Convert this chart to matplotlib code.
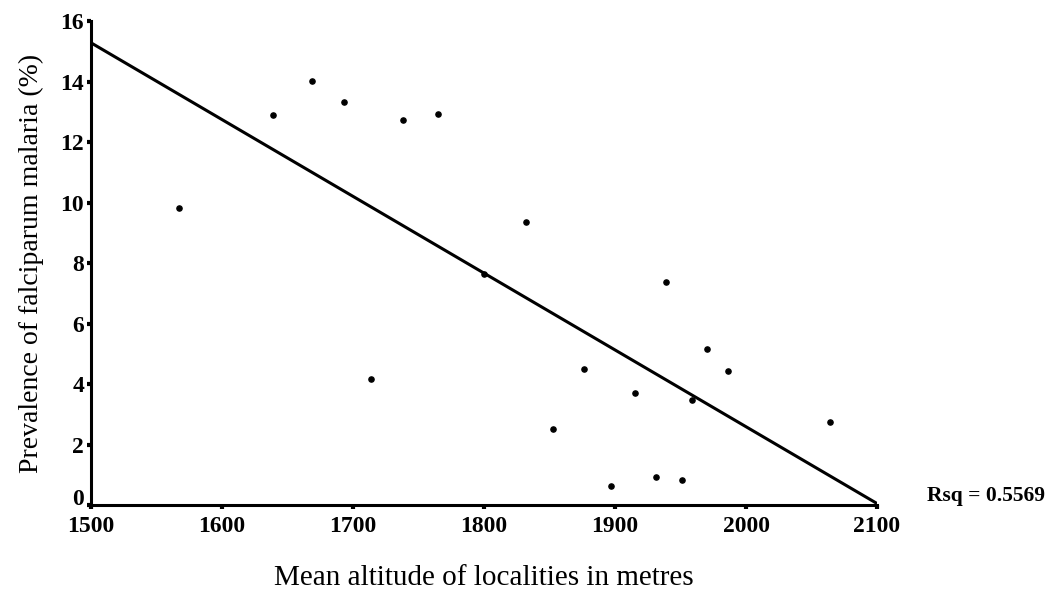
import numpy as np
import matplotlib
matplotlib.use("Agg")
from matplotlib import pyplot as plt

# mean altitude (m) and prevalence (%)
altitude = [1567, 1639, 1669, 1693, 1714, 1738, 1765, 1800, 1832, 1853,
            1876, 1897, 1915, 1931, 1939, 1951, 1959, 1970, 1986, 2064]
prevalence = [9.82, 12.89, 14.03, 13.31, 4.16, 12.74, 12.91, 7.65, 9.36, 2.51,
              4.50, 0.62, 3.69, 0.94, 7.36, 0.82, 3.47, 5.15, 4.44, 2.75]

# fitted line end points
fit_x = [1500, 2100]
fit_y = [15.28, 0.05]

x_ticks = [1500, 1600, 1700, 1800, 1900, 2000, 2100]
y_ticks = [0, 2, 4, 6, 8, 10, 12, 14, 16]

plt.rcParams['font.family'] = ['Liberation Serif', 'DejaVu Serif']

fig = plt.figure(figsize=(10.56, 5.94), dpi=100)
ax = fig.add_axes([0.0862, 0.1498, 0.8305 - 0.0862, 0.9646 - 0.1498])

ax.plot(fit_x, fit_y, color='black', lw=2.2, solid_capstyle='butt')
ax.scatter(altitude, prevalence, s=14, color='black', zorder=3)

ax.set_xlim(1500, 2100)
ax.set_ylim(0, 16)
ax.set_xticks(x_ticks)
ax.set_yticks(y_ticks)
ax.set_xticklabels([str(v) for v in x_ticks], fontweight='bold', fontsize=17)
ax.set_yticklabels([str(v) for v in y_ticks], fontweight='bold', fontsize=17)
ax.tick_params(length=3, width=3)
ax.tick_params(axis='x', pad=5)
ax.tick_params(axis='y', pad=2)
# the 0 label sits a little above the axis, as in the original
ax.get_yticklabels()[0].set_va('baseline')

for side in ['top', 'right']:
    ax.spines[side].set_visible(False)
for side in ['left', 'bottom']:
    ax.spines[side].set_linewidth(2.2)

ax.set_xlabel("Mean altitude of localities in metres", fontsize=21, labelpad=20)
ax.set_ylabel("Prevalence of falciparum malaria (%)", fontsize=20, labelpad=12)

ax.text(1.063, 0.019, "Rsq = 0.5569", transform=ax.transAxes, fontsize=15.5,
        fontweight='bold', ha='left', va='center')

fig.savefig("out.png", dpi=100)
